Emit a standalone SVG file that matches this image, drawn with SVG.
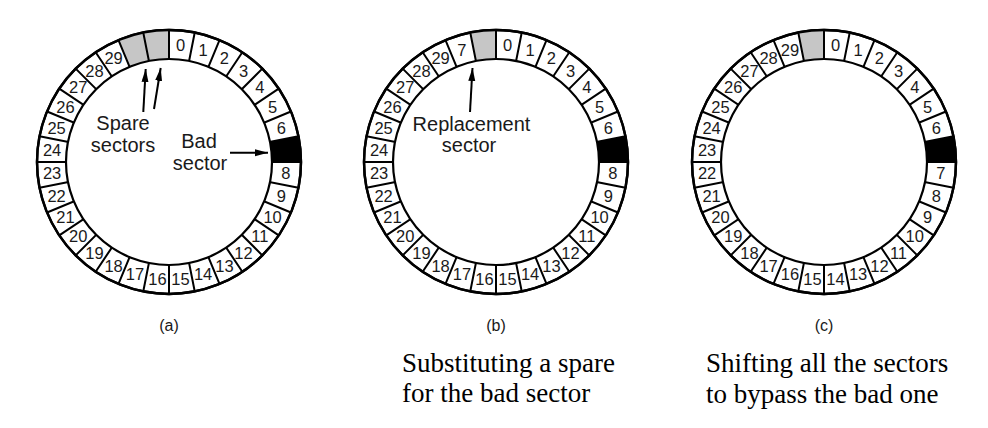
<svg xmlns="http://www.w3.org/2000/svg" xmlns:xlink="http://www.w3.org/1999/xlink" width="988" height="428" viewBox="0 0 988 428">
<style>
.bg{fill:#ffffff;}
.rim{fill:#ffffff;stroke:#000;stroke-width:2.4;}
.spk{fill:none;stroke:#000;stroke-width:2;}
.hole{fill:#ffffff;stroke:#000;stroke-width:2.2;}
.spare{fill:#c6c6c6;stroke:none;}
.bad{fill:#000;stroke:none;}
.num{font-family:"Liberation Sans",Arial,sans-serif;font-size:16.5px;fill:#1a1a1a;text-anchor:middle;}
.lbl{font-family:"Liberation Sans",Arial,sans-serif;font-size:20px;fill:#1a1a1a;text-anchor:middle;}
.cap{font-family:"Liberation Sans",Arial,sans-serif;font-size:16px;fill:#1a1a1a;text-anchor:middle;}
.note{font-family:"Liberation Serif","Times New Roman",serif;font-size:27px;fill:#000;}
.arr{fill:none;stroke:#000;stroke-width:2;marker-end:url(#ah);}
</style>
<defs>
<marker id="ah" markerUnits="userSpaceOnUse" markerWidth="14" markerHeight="10" refX="13" refY="3.5" orient="auto">
<path d="M0,0 L13,3.5 L0,7 Z" fill="#000"/>
</marker>
<path id="spokes" class="spk" d="M0,-132 L0,132 M25.75,-129.46 L-25.75,129.46 M50.51,-121.95 L-50.51,121.95 M73.34,-109.75 L-73.34,109.75 M93.34,-93.34 L-93.34,93.34 M109.75,-73.34 L-109.75,73.34 M121.95,-50.51 L-121.95,50.51 M129.46,-25.75 L-129.46,25.75 M132,0 L-132,0 M129.46,25.75 L-129.46,-25.75 M121.95,50.51 L-121.95,-50.51 M109.75,73.34 L-109.75,-73.34 M93.34,93.34 L-93.34,-93.34 M73.34,109.75 L-73.34,-109.75 M50.51,121.95 L-50.51,-121.95 M25.75,129.46 L-25.75,-129.46"/>
<path id="s31" d="M-25.75,-129.46 A132,132 0 0 1 0,-132 L0,-103 A103,103 0 0 0 -20.09,-101.02 Z"/>
<path id="s30" d="M-50.51,-121.95 A132,132 0 0 1 -25.75,-129.46 L-20.09,-101.02 A103,103 0 0 0 -39.42,-95.16 Z"/>
<path id="s7" d="M129.46,-25.75 A132,132 0 0 1 132,0 L103,0 A103,103 0 0 0 101.02,-20.09 Z"/>
</defs>
<rect class="bg" x="0" y="0" width="988" height="428"/>

<g id="ring-a" transform="translate(169,162)">
<circle class="rim" r="132"/>
<use xlink:href="#s31" class="spare"/>
<use xlink:href="#s30" class="spare"/>
<use xlink:href="#s7" class="bad"/>
<use xlink:href="#spokes"/>
<circle class="hole" r="103"/>
<circle r="132" fill="none" stroke="#000" stroke-width="2.4"/>
<g class="num">
<text x="11.5" y="-111">0</text>
<text x="34.1" y="-106.5">1</text>
<text x="55.4" y="-97.7">2</text>
<text x="74.5" y="-84.9">3</text>
<text x="90.8" y="-68.6">4</text>
<text x="103.6" y="-49.5">5</text>
<text x="112.4" y="-28.2">6</text>
<text x="116.9" y="17.4">8</text>
<text x="112.4" y="40">9</text>
<text x="103.6" y="61.3">10</text>
<text x="90.8" y="80.4">11</text>
<text x="74.5" y="96.7">12</text>
<text x="55.4" y="109.5">13</text>
<text x="34.1" y="118.3">14</text>
<text x="11.5" y="122.8">15</text>
<text x="-11.5" y="122.8">16</text>
<text x="-34.1" y="118.3">17</text>
<text x="-55.4" y="109.5">18</text>
<text x="-74.5" y="96.7">19</text>
<text x="-90.8" y="80.4">20</text>
<text x="-103.6" y="61.3">21</text>
<text x="-112.4" y="40">22</text>
<text x="-116.9" y="17.4">23</text>
<text x="-116.9" y="-5.6">24</text>
<text x="-112.4" y="-28.2">25</text>
<text x="-103.6" y="-49.5">26</text>
<text x="-90.8" y="-68.6">27</text>
<text x="-74.5" y="-84.9">28</text>
<text x="-55.4" y="-97.7">29</text>
</g>
</g>

<g id="ring-b" transform="translate(496,162)">
<circle class="rim" r="132"/>
<use xlink:href="#s31" class="spare"/>
<use xlink:href="#s7" class="bad"/>
<use xlink:href="#spokes"/>
<circle class="hole" r="103"/>
<circle r="132" fill="none" stroke="#000" stroke-width="2.4"/>
<g class="num">
<text x="11.5" y="-111">0</text>
<text x="34.1" y="-106.5">1</text>
<text x="55.4" y="-97.7">2</text>
<text x="74.5" y="-84.9">3</text>
<text x="90.8" y="-68.6">4</text>
<text x="103.6" y="-49.5">5</text>
<text x="112.4" y="-28.2">6</text>
<text x="116.9" y="17.4">8</text>
<text x="112.4" y="40">9</text>
<text x="103.6" y="61.3">10</text>
<text x="90.8" y="80.4">11</text>
<text x="74.5" y="96.7">12</text>
<text x="55.4" y="109.5">13</text>
<text x="34.1" y="118.3">14</text>
<text x="11.5" y="122.8">15</text>
<text x="-11.5" y="122.8">16</text>
<text x="-34.1" y="118.3">17</text>
<text x="-55.4" y="109.5">18</text>
<text x="-74.5" y="96.7">19</text>
<text x="-90.8" y="80.4">20</text>
<text x="-103.6" y="61.3">21</text>
<text x="-112.4" y="40">22</text>
<text x="-116.9" y="17.4">23</text>
<text x="-116.9" y="-5.6">24</text>
<text x="-112.4" y="-28.2">25</text>
<text x="-103.6" y="-49.5">26</text>
<text x="-90.8" y="-68.6">27</text>
<text x="-74.5" y="-84.9">28</text>
<text x="-55.4" y="-97.7">29</text>
<text x="-34.1" y="-106.5">7</text>
</g>
</g>

<g id="ring-c" transform="translate(824,162)">
<circle class="rim" r="132"/>
<use xlink:href="#s31" class="spare"/>
<use xlink:href="#s7" class="bad"/>
<use xlink:href="#spokes"/>
<circle class="hole" r="103"/>
<circle r="132" fill="none" stroke="#000" stroke-width="2.4"/>
<g class="num">
<text x="11.5" y="-111">0</text>
<text x="34.1" y="-106.5">1</text>
<text x="55.4" y="-97.7">2</text>
<text x="74.5" y="-84.9">3</text>
<text x="90.8" y="-68.6">4</text>
<text x="103.6" y="-49.5">5</text>
<text x="112.4" y="-28.2">6</text>
<text x="116.9" y="17.4">7</text>
<text x="112.4" y="40">8</text>
<text x="103.6" y="61.3">9</text>
<text x="90.8" y="80.4">10</text>
<text x="74.5" y="96.7">11</text>
<text x="55.4" y="109.5">12</text>
<text x="34.1" y="118.3">13</text>
<text x="11.5" y="122.8">14</text>
<text x="-11.5" y="122.8">15</text>
<text x="-34.1" y="118.3">16</text>
<text x="-55.4" y="109.5">17</text>
<text x="-74.5" y="96.7">18</text>
<text x="-90.8" y="80.4">19</text>
<text x="-103.6" y="61.3">20</text>
<text x="-112.4" y="40">21</text>
<text x="-116.9" y="17.4">22</text>
<text x="-116.9" y="-5.6">23</text>
<text x="-112.4" y="-28.2">24</text>
<text x="-103.6" y="-49.5">25</text>
<text x="-90.8" y="-68.6">26</text>
<text x="-74.5" y="-84.9">27</text>
<text x="-55.4" y="-97.7">28</text>
<text x="-34.1" y="-106.5">29</text>
</g>
</g>

<g id="label-spare">
<text class="lbl" x="123" y="130">Spare</text>
<text class="lbl" x="123" y="151.5">sectors</text>
</g>
<g id="label-bad">
<text class="lbl" x="199" y="148">Bad</text>
<text class="lbl" x="200" y="170">sector</text>
</g>
<g id="label-replacement">
<text class="lbl" x="471.5" y="131">Replacement</text>
<text class="lbl" x="469" y="151.5">sector</text>
</g>

<g id="connectors">
<line class="arr" x1="143.3" y1="112" x2="145.7" y2="69"/>
<line class="arr" x1="154" y1="109" x2="160.7" y2="68"/>
<line class="arr" x1="230" y1="152.7" x2="268" y2="152.7"/>
<line class="arr" x1="470" y1="112" x2="472.5" y2="68"/>
</g>

<g id="captions">
<text class="cap" x="169" y="331">(a)</text>
<text class="cap" x="496" y="331">(b)</text>
<text class="cap" x="824" y="331">(c)</text>
</g>
<g id="notes">
<text class="note" x="402" y="372">Substituting a spare</text>
<text class="note" x="402" y="402">for the bad sector</text>
<text class="note" x="706" y="372">Shifting all the sectors</text>
<text class="note" x="706" y="403">to bypass the bad one</text>
</g>
</svg>
